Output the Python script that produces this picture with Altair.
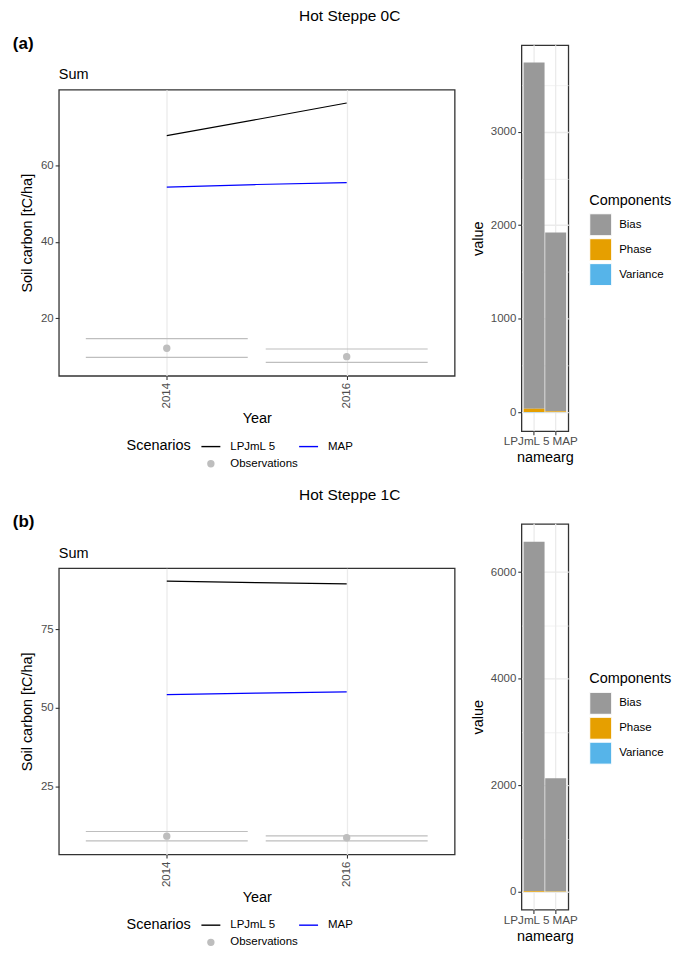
import altair as alt
import pandas as pd

FONT = "Liberation Sans"
GRID = "#EBEBEB"
DARK = "#333333"

# ---------------- data ----------------
years = [2014, 2015, 2016]
lpjml_a = [67.8, 72.0, 76.3]
map_a = [54.3, 55.0, 55.5]
lpjml_b = [90.4, 89.9, 89.5]
map_b = [54.2, 54.7, 55.1]

obs_years = [2014, 2016]
obs_a = [12.2, 10.0]
obs_a_low = [9.8, 8.5]
obs_a_high = [14.7, 12.0]
obs_b = [9.1, 8.6]
obs_b_low = [7.6, 7.6]
obs_b_high = [10.6, 9.2]

scenarios = ["LPJmL 5", "MAP", "Observations"]
scenario_colors = ["black", "blue", "#BEBEBE"]
scenario_fills = ["transparent", "transparent", "#BEBEBE"]
scenario_shapes = ["stroke", "stroke", "circle"]
scenario_sizes = [361, 361, 36]

models = ["LPJmL 5", "MAP"]
components = ["Bias", "Phase", "Variance"]
component_colors = ["#999999", "#E69F00", "#56B4E9"]
bias_a = [3704, 1913]
phase_a = [35, 8]
variance_a = [2, 1]
bias_b = [6553, 2120]
phase_b = [12, 8]
variance_b = [2, 1]

x_ticks = [2014, 2016]
y_ticks_a = [10, 20, 30, 40, 50, 60, 70]
y_ticks_b = [12.5, 25, 37.5, 50, 62.5, 75, 87.5]
bar_ticks_a = [0, 500, 1000, 1500, 2000, 2500, 3000, 3500]
bar_ticks_b = [0, 1000, 2000, 3000, 4000, 5000, 6000]


def major_test(step):
    return f"datum.value % {step} === 0"


def y_axis(values, step, title, title_pad, fmt=None):
    kw = dict(
        values=values,
        title=title,
        labelExpr=f"{major_test(step)} ? datum.label : ''",
        tickColor={"condition": {"test": major_test(step), "value": DARK}, "value": "transparent"},
        gridWidth={"condition": {"test": major_test(step), "value": 1.3}, "value": 0.65},
        labelPadding=2,
        titlePadding=title_pad,
        labelOverlap=False,
    )
    if fmt:
        kw["format"] = fmt
    return alt.Axis(**kw)


def scen_legend():
    return alt.Legend(
        title="Scenarios", orient="none", legendX=68, legendY=392,
        direction="horizontal", columns=2, titleOrient="left",
        titleAnchor="start", titleBaseline="line-top", titleLineHeight=20.5,
        titlePadding=9, titleFontSize=14.5, titleFontWeight="normal",
        titleColor="black", labelFontSize=11.5, labelColor="black",
        symbolStrokeWidth=1.4, labelOffset=9, columnPadding=-14, rowPadding=5,
    )


def line_panel(lpj, mp, obs, low, high, ydom, yvals, step, tag):
    lines_df = pd.DataFrame({
        "Year": years + years,
        "Value": lpj + mp,
        "Scenario": [scenarios[0]] * len(years) + [scenarios[1]] * len(years),
    })
    obs_df = pd.DataFrame({"Year": obs_years, "Mean": obs, "Low": low, "High": high,
                           "Scenario": [scenarios[2]] * len(obs_years)})
    xsc = alt.Scale(domain=[2012.8, 2017.2], nice=False, zero=False)
    ysc = alt.Scale(domain=ydom, nice=False, zero=False)

    caps = (
        alt.Chart(obs_df)
        .transform_fold(["Low", "High"], as_=["Bound", "Val"])
        .transform_calculate(xs="datum.Year - 0.9", xe="datum.Year + 0.9")
        .mark_rule(color="#BEBEBE", strokeWidth=1.2)
        .encode(
            x=alt.X("xs:Q", scale=xsc, axis=None),
            x2="xe:Q",
            y=alt.Y("Val:Q", scale=ysc, axis=None),
        )
    )
    lines = (
        alt.Chart(lines_df)
        .mark_line(strokeWidth=1.2)
        .encode(
            x=alt.X("Year:Q", scale=xsc, axis=alt.Axis(
                orient="bottom", values=x_ticks, format="d", labelAngle=-90, title="Year",
                grid=True, gridWidth=1.3, labelPadding=3, titlePadding=4)),
            y=alt.Y("Value:Q", scale=ysc, axis=y_axis(yvals, step, "Soil carbon [tC/ha]", 6)),
            stroke=alt.Stroke("Scenario:N", scale=alt.Scale(domain=scenarios, range=scenario_colors),
                              legend=scen_legend()),
        )
    )
    points = (
        alt.Chart(obs_df)
        .mark_point(opacity=1, strokeWidth=1.4)
        .encode(
            x=alt.X("Year:Q", scale=xsc, axis=None),
            y=alt.Y("Mean:Q", scale=ysc, axis=None),
            stroke=alt.Stroke("Scenario:N", scale=alt.Scale(domain=scenarios, range=scenario_colors),
                              legend=scen_legend()),
            fill=alt.Fill("Scenario:N", scale=alt.Scale(domain=scenarios, range=scenario_fills),
                          legend=scen_legend()),
            shape=alt.Shape("Scenario:N", scale=alt.Scale(domain=scenarios, range=scenario_shapes),
                            legend=scen_legend()),
            size=alt.Size("Scenario:N", scale=alt.Scale(type="ordinal", domain=scenarios,
                                                        range=scenario_sizes),
                          legend=scen_legend()),
        )
    )
    panel = alt.layer(caps, lines, points).resolve_axis(
        x="independent", y="independent").properties(width=397, height=287)

    # header strip holding the panel subtitle "Sum" (no marks of its own)
    header = (
        alt.Chart(alt.Data(values=[]))
        .mark_point()
        .properties(
            width=397, height=1,
            view=alt.ViewBackground(stroke="transparent"),
            title=alt.TitleParams("Sum", orient="bottom", anchor="start", frame="group",
                                  fontSize=14.5, fontWeight="normal", offset=22, color="black"),
        )
    )
    return alt.vconcat(
        header, panel, spacing=6.5,
        title=alt.TitleParams(tag, anchor="start", frame="bounds", fontSize=17,
                              fontWeight="bold", offset=-8, dx=-6, color="black"),
    )


def bar_panel(bias, phase, var, ydom, yvals, step):
    df = pd.DataFrame({
        "namearg": models * 3,
        "Components": [c for c in components for _ in models],
        "value": bias + phase + var,
    })
    xsc = alt.Scale(domain=models, paddingInner=0.03, paddingOuter=0.1)
    grid = (
        alt.Chart(pd.DataFrame({"namearg": models}))
        .mark_rule(color=GRID, strokeWidth=1.3)
        .encode(x=alt.X("namearg:N", scale=xsc, axis=None))
    )
    bars = (
        alt.Chart(df)
        .mark_bar()
        .encode(
            x=alt.X("namearg:N", scale=xsc, axis=alt.Axis(
                orient="bottom", title="namearg", labelAngle=0, labelOverlap=False, grid=False,
                labelAlign="center", labelFontSize=11.7,
                labelOffset={"condition": {"test": "datum.value === 'LPJmL 5'", "value": -7.5},
                             "value": 9.5},
                labelPadding=1, titlePadding=3)),
            y=alt.Y("value:Q", stack="zero",
                    scale=alt.Scale(domain=ydom, nice=False, zero=False),
                    axis=y_axis(yvals, step, "value", 5, fmt="d")),
            color=alt.Color("Components:N",
                            scale=alt.Scale(domain=components, range=component_colors),
                            legend=alt.Legend(
                                title="Components", orient="none", legendX=68, legendY=149,
                                symbolType="square", symbolSize=484, symbolStrokeColor="white",
                                symbolStrokeWidth=1, rowPadding=-8, labelOffset=7,
                                titlePadding=5, titleFontSize=14.5, titleFontWeight="normal",
                                titleColor="black", labelFontSize=11.5, labelColor="black")),
            order=alt.Order("Components:N", sort="descending"),
        )
    )
    return alt.layer(grid, bars).resolve_axis(x="independent").properties(width=47, height=387)


IND = dict(color="independent", stroke="independent", fill="independent",
           shape="independent", size="independent")


def row(line, bar, title):
    return alt.hconcat(
        line, bar, spacing=14,
        title=alt.TitleParams(title, anchor="middle", fontSize=15.5, fontWeight="normal",
                              offset=10, dx=7, color="black"),
    ).resolve_scale(**IND).resolve_legend(**IND)


line_a = line_panel(lpjml_a, map_a, obs_a, obs_a_low, obs_a_high, [5, 79.8], y_ticks_a, 20, "(a)")
line_b = line_panel(lpjml_b, map_b, obs_b, obs_b_low, obs_b_high, [3.3, 94.5], y_ticks_b, 25, "(b)")
bar_a = bar_panel(bias_a, phase_a, variance_a, [-203, 3925], bar_ticks_a, 1000)
bar_b = bar_panel(bias_b, phase_b, variance_b, [-337, 6904], bar_ticks_b, 2000)

chart = (
    alt.vconcat(row(line_a, bar_a, "Hot Steppe 0C"), row(line_b, bar_b, "Hot Steppe 1C"), spacing=18)
    .resolve_scale(**IND)
    .resolve_legend(**IND)
    .properties(padding={"left": 12, "top": 8, "right": 2, "bottom": 2})
    .configure(font=FONT)
    .configure_view(stroke=DARK, strokeWidth=1.3)
    .configure_axis(domain=False, tickColor=DARK, tickSize=3.7, tickWidth=1.1,
                    labelColor="#4D4D4D", labelFontSize=11.5, labelFont=FONT,
                    titleFont=FONT, titleFontSize=14.5, titleFontWeight="normal",
                    titleColor="black", gridColor=GRID, gridWidth=1.3)
    .configure_legend(labelFont=FONT, titleFont=FONT)
    .configure_title(font=FONT, color="black")
)

chart.save("out.html", embed_options={"renderer": "svg", "actions": False})
